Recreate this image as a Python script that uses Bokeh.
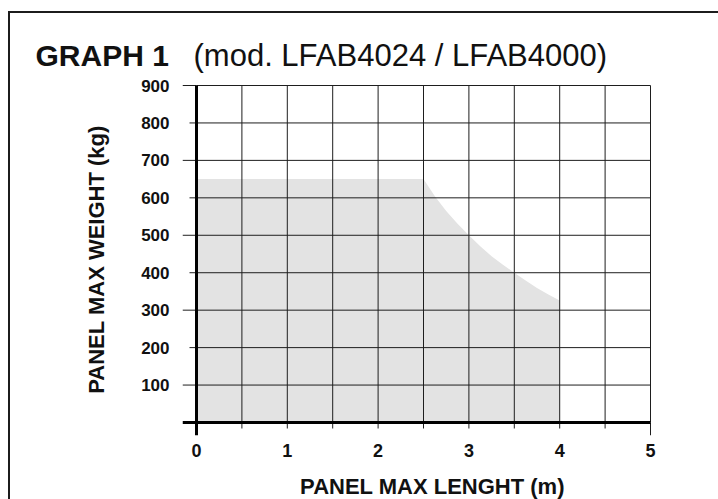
from bokeh.plotting import figure
from bokeh.layouts import column
from bokeh.models import Range1d, FixedTicker
from bokeh.embed import file_html
from bokeh.resources import INLINE
from bokeh.core.properties import value

# ---------------- data ----------------
length_m = [0.0, 2.5, 2.625, 2.75, 2.875, 3.0, 3.125, 3.25, 3.375, 3.5, 3.625, 3.75, 3.875, 4.0]
max_weight_kg = [650, 650, 604, 565, 531, 500, 471, 444, 421, 400, 379, 359, 342, 326]

x_tick_values = [0, 1, 2, 3, 4, 5]
x_grid_values = [0.5, 1.0, 1.5, 2.0, 2.5, 3.0, 3.5, 4.0, 4.5, 5.0]
x_short_ticks = [0.5, 1.0, 1.5, 2.0, 2.5, 3.0, 3.5, 4.0, 4.5]
x_long_ticks = [5.0]
y_tick_values = [100, 200, 300, 400, 500, 600, 700, 800, 900]
y_long_ticks = [100, 300, 500, 700, 900]
y_short_ticks = [200, 400, 600, 800]

title_bold = "GRAPH 1"
title_rest = "(mod. LFAB4024 / LFAB4000)"
x_title = "PANEL MAX LENGHT (m)"
y_title = "PANEL MAX WEIGHT (kg)"

X_MAX = 5.0
Y_MAX = 900.0

# ---------------- layout (page pixels; page has no body margin) ----------------
BOX_LEFT, BOX_TOP, BORDER = 8, 11, 2
ORIGIN_X, ORIGIN_Y = BOX_LEFT + BORDER, BOX_TOP + BORDER     # content origin (10, 13)
W = 718 - ORIGIN_X
HEAD_BOTTOM = 73          # page y where the chart figure starts
FOOT_TOP = 462            # page y where the footer figure starts
PAGE_BOTTOM = 499

AX_X0, AX_X1 = 196, 650   # page x of x=0 and x=X_MAX
AX_Y0, AX_Y1 = 422, 85    # page y of y=0 and y=Y_MAX
PAD_LEFT, PAD_BOTTOM, PAD_EDGE = 14, 13, 2
Y_SHORT_PX, X_SHORT_PX, X_LONG_PX = 7, 6, 13

px_x = (AX_X1 - AX_X0) / X_MAX
px_y = (AX_Y0 - AX_Y1) / Y_MAX
frame_left = AX_X0 - PAD_LEFT
frame_right = AX_X1 + PAD_EDGE
frame_top = AX_Y1 - PAD_EDGE
frame_bottom = AX_Y0 + PAD_BOTTOM

FONT = "Liberation Sans"
INK = "#111111"
GRID = "#1e1e1e"


def text_strip(height):
    f = figure(width=W, height=height, x_range=Range1d(0, W), y_range=Range1d(height, 0),
               title=None, output_backend="svg", toolbar_location=None,
               x_axis_location=None, y_axis_location=None,
               min_border=0, min_border_left=0, min_border_right=0,
               min_border_top=0, min_border_bottom=0)
    f.frame_align = False
    f.outline_line_color = None
    f.xgrid.visible = False
    f.ygrid.visible = False
    f.background_fill_color = "white"
    f.border_fill_color = "white"
    return f


# ---------------- heading ----------------
head = text_strip(HEAD_BOTTOM - ORIGIN_Y)
head.text(x=[35 - ORIGIN_X], y=[55 - ORIGIN_Y], text=[title_bold],
          text_font=value(FONT), text_font_style="bold", text_font_size="30px",
          text_color=INK, text_align="left", text_baseline="alphabetic")
head.text(x=[193 - ORIGIN_X], y=[55 - ORIGIN_Y], text=[title_rest],
          text_font=value(FONT), text_font_style="normal", text_font_size="31px",
          text_color=INK, text_align="left", text_baseline="alphabetic")

# ---------------- chart ----------------
CH = FOOT_TOP - HEAD_BOTTOM
p = figure(
    width=W, height=CH, title=None,
    x_range=Range1d(-PAD_LEFT / px_x, X_MAX + PAD_EDGE / px_x),
    y_range=Range1d(-PAD_BOTTOM / px_y, Y_MAX + PAD_EDGE / px_y),
    output_backend="svg", toolbar_location=None,
    min_border_left=frame_left - ORIGIN_X,
    min_border_right=ORIGIN_X + W - frame_right,
    min_border_top=frame_top - HEAD_BOTTOM,
    min_border_bottom=FOOT_TOP - frame_bottom,
)
p.frame_align = False
p.outline_line_color = None
p.background_fill_color = "white"
p.border_fill_color = "white"
p.xgrid.visible = False
p.ygrid.visible = False

# filled operating area
p.varea(x=length_m, y1=[0] * len(length_m), y2=max_weight_kg,
        fill_color="#e3e3e3", fill_alpha=1.0)

# grid lines
p.segment(x0=x_grid_values, y0=[0] * len(x_grid_values),
          x1=x_grid_values, y1=[Y_MAX] * len(x_grid_values),
          line_color=GRID, line_width=1)
p.segment(x0=[0] * len(y_tick_values), y0=y_tick_values,
          x1=[X_MAX] * len(y_tick_values), y1=y_tick_values,
          line_color=GRID, line_width=1)

# tick marks
p.segment(x0=[-PAD_LEFT / px_x] * len(y_long_ticks), y0=y_long_ticks,
          x1=[0] * len(y_long_ticks), y1=y_long_ticks, line_color=GRID, line_width=1)
p.segment(x0=[-Y_SHORT_PX / px_x] * len(y_short_ticks), y0=y_short_ticks,
          x1=[0] * len(y_short_ticks), y1=y_short_ticks, line_color=GRID, line_width=1)
p.segment(x0=x_short_ticks, y0=[-X_SHORT_PX / px_y] * len(x_short_ticks),
          x1=x_short_ticks, y1=[0] * len(x_short_ticks), line_color=GRID, line_width=1)
p.segment(x0=x_long_ticks, y0=[-X_LONG_PX / px_y] * len(x_long_ticks),
          x1=x_long_ticks, y1=[0] * len(x_long_ticks), line_color=GRID, line_width=1)

# main axes (thick)
p.segment(x0=[0], y0=[-PAD_BOTTOM / px_y], x1=[0], y1=[Y_MAX], line_color="black", line_width=3)
p.segment(x0=[-PAD_LEFT / px_x], y0=[0], x1=[X_MAX], y1=[0], line_color="black", line_width=3)

# axes (labels only)
for ax in (p.xaxis[0], p.yaxis[0]):
    ax.axis_line_color = None
    ax.major_tick_line_color = None
    ax.minor_tick_line_color = None
    ax.major_label_text_font = FONT
    ax.major_label_text_font_style = "bold"
    ax.major_label_text_color = INK
    ax.axis_label_text_font = FONT
    ax.axis_label_text_font_style = "bold"
    ax.axis_label_text_color = INK

p.xaxis[0].ticker = FixedTicker(ticks=x_tick_values)
p.xaxis[0].major_label_text_font_size = "18px"
p.xaxis[0].major_label_standoff = 2

p.yaxis[0].ticker = FixedTicker(ticks=y_tick_values)
p.yaxis[0].major_label_text_font_size = "17px"
p.yaxis[0].major_label_standoff = 7
p.yaxis[0].axis_label = y_title
p.yaxis[0].axis_label_text_font_size = "22px"
p.yaxis[0].axis_label_standoff = 29

# ---------------- footer (x axis title) ----------------
foot = text_strip(PAGE_BOTTOM - FOOT_TOP)
foot.text(x=[432 - ORIGIN_X], y=[486 - FOOT_TOP], text=[x_title],
          text_font=value(FONT), text_font_style="bold", text_font_size="22px",
          text_color=INK, text_align="center", text_baseline="alphabetic")

layout = column(head, p, foot, spacing=0)
layout.styles = {
    "margin-left": f"{BOX_LEFT}px",
    "margin-top": f"{BOX_TOP}px",
    "border-left": f"{BORDER}px solid #1c1c1c",
    "border-top": f"{BORDER}px solid #1c1c1c",
}

open("out.html", "w").write(file_html(layout, INLINE))
